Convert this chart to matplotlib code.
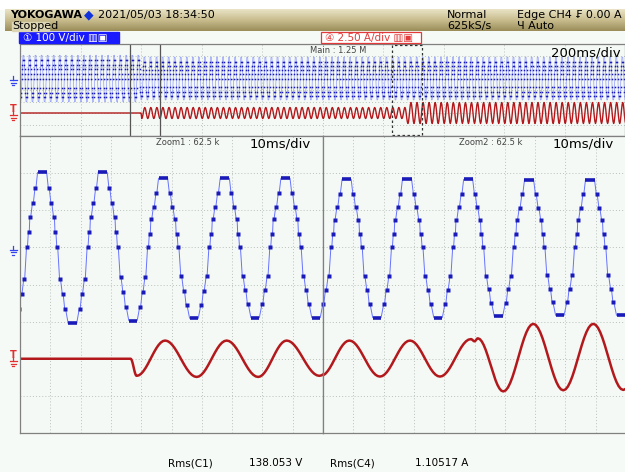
import matplotlib
matplotlib.use('Agg')
import matplotlib.pyplot as plt
import numpy as np
from matplotlib.lines import Line2D
from matplotlib.patches import Rectangle

W, H = 625, 472

# one falling half-cycle of the inverter voltage staircase:
# ms from peak centre, fraction of peak (positive) / trough (negative)
fall_t = [0.0, 1.5, 2.2, 3.05, 3.9, 4.4, 5.0, 5.9, 6.8, 7.6, 8.6, 10.0]
fall_v = [1.0, 1.0, 0.79, 0.59, 0.41, 0.2, 0.0, -0.41, -0.61, -0.81, -1.0, -1.0]

# zoom windows (ms into the 2 s record)
zoom_start = [364.0, 1230.0]
zoom_len = 100.0

# CH1 voltage extrema in each zoom window (ms from window start, div)
z1_v_t = [-2.7, 7.3, 17.3, 27.3, 37.3, 47.2, 57.4, 67.6, 77.6, 87.6, 97.7, 107.7]
z1_v = [-2.05, 2.02, -2.05, 2.02, -1.97, 1.86, -1.91, 1.86, -1.89, 1.86, -1.89, 1.86]
z2_v_t = [-2.3, 7.8, 17.8, 27.7, 38.0, 47.9, 57.9, 68.0, 78.2, 88.1, 98.3, 108.3]
z2_v = [-1.89, 1.83, -1.89, 1.83, -1.89, 1.83, -1.85, 1.81, -1.83, 1.81, -1.83, 1.81]

# CH4 current extrema in each zoom window (ms from window start, div)
z1_i_t = [-5.0, 36.5, 38.5, 47.9, 58.3, 68.2, 78.6, 88.0, 98.8, 108.6]
z1_i = [0.0, 0.0, -0.46, 0.49, -0.49, 0.49, -0.49, 0.49, -0.46, 0.49]
z2_i_t = [-0.7, 8.7, 18.8, 28.7, 38.6, 48.8, 50.0, 51.1, 59.5, 69.4, 79.3, 89.2, 99.1, 109.0]
z2_i = [-0.46, 0.49, -0.48, 0.49, -0.48, 0.53, 0.47, 0.55, -0.88, 0.94, -0.85, 0.94, -0.84, 0.94]

# main record (200 ms/div, 2 s)
main_period = 20.0
main_v_first_peak = 11.3
main_v_amp = [2.02, 1.86]
main_i_start = 400.0
main_i_first_trough = 402.5
main_i_step = 1279.0
main_i_amp = [0.48, 0.91]

# channel zero positions (div from screen centre)
v_zero = 1.0
i_zero = -2.0

C_BLUE_LINE = '#6672ff'
C_BLUE_DOT = '#1a1ab8'
C_RED = '#b3191c'
C_GRID = '#b9c2bb'
C_BG = '#f4f9f5'


def px(x, y):
    return x / W, 1 - y / H


def staircase(tx, vx):
    ts, vs, dt, dv, flats = [], [], [], [], []
    for k in range(len(tx) - 1):
        ta, tb, va, vb = tx[k], tx[k + 1], vx[k], vx[k + 1]
        sc = (tb - ta) / 10.0
        if va > 0:
            pts = [(ta + f * sc, v * va if v > 0 else v * -vb) for f, v in zip(fall_t, fall_v)]
        else:
            pts = [(tb - f * sc, v * vb if v > 0 else v * -va) for f, v in zip(fall_t, fall_v)][::-1]
        for j, (t, v) in enumerate(pts):
            if j in (0, 1, 10, 11):
                ts.append(t)
                vs.append(v)
            else:
                ts += [t - 0.15, t + 0.15]
                vs += [v, v]
                dt.append(t)
                dv.append(v)
        flats.append((pts[0][0], pts[1][0], pts[0][1]))
        flats.append((pts[10][0], pts[11][0], pts[10][1]))
    return np.array(ts), np.array(vs), np.array(dt), np.array(dv), flats


def smooth(tx, vx, n=14):
    ts, vs = [], []
    for k in range(len(tx) - 1):
        s = np.linspace(0, 1, n)
        ts.extend(tx[k] + (tx[k + 1] - tx[k]) * s)
        vs.extend(vx[k] + (vx[k + 1] - vx[k]) * (1 - np.cos(np.pi * s)) / 2)
    return np.array(ts), np.array(vs)


def setup(ax, xmax, nx):
    ax.set_facecolor(C_BG)
    ax.set_xlim(0, xmax)
    ax.set_ylim(-4, 4)
    ax.set_xticks(np.linspace(0, xmax, nx + 1))
    ax.set_yticks(np.arange(-4, 5, 1))
    ax.tick_params(length=0, labelbottom=False, labelleft=False)
    ax.grid(True, color=C_GRID, lw=0.7, ls=(0, (1, 2.2)))
    for s in ax.spines.values():
        s.set_color('#808080')
        s.set_linewidth(0.9)


fig = plt.figure(figsize=(W / 100, H / 100), dpi=100, facecolor='#f6faf6')

# header bar
hdr = fig.add_axes([5 / W, 1 - 31 / H, 620 / W, 22 / H])
grad = np.linspace(0, 1, 50).reshape(-1, 1)
hdr.imshow(grad, aspect='auto', cmap=matplotlib.colors.LinearSegmentedColormap.from_list(
    'hdr', ['#e9e3c6', '#c9bd8e', '#9a8d5a']), extent=[0, 1, 0, 1])
hdr.axis('off')
fig.add_artist(Rectangle(px(0, 9), 1, 9 / H, transform=fig.transFigure, color='white', zorder=0))
fig.add_artist(Rectangle(px(12, 31), 37 / W, 9 / H, transform=fig.transFigure,
                         color='#ddd6b4', zorder=3))

narrow = ['Liberation Sans Narrow', 'DejaVu Sans']
fig.text(*px(10, 15), 'YOKOGAWA', fontsize=8, fontweight='bold', family=narrow, va='center', zorder=5)
fig.text(*px(84, 15), '\u25c6', fontsize=9, color='#1133dd', va='center', zorder=5)
fig.text(*px(98, 15), '2021/05/03 18:34:50', fontsize=8, family=narrow, va='center', zorder=5)
fig.text(*px(12, 26), 'Stopped', fontsize=8, family=narrow, va='center', zorder=5)
fig.text(*px(447, 15), 'Normal', fontsize=8, family=narrow, va='center', zorder=5)
fig.text(*px(447, 26), '625kS/s', fontsize=8, family=narrow, va='center', zorder=5)
fig.text(*px(517, 15), 'Edge CH4 \u20a3 0.00 A', fontsize=8, family=narrow, va='center', zorder=5)
fig.text(*px(517, 26), '\u0427 Auto', fontsize=8, family=narrow, va='center', zorder=5)

# channel setting boxes
fig.add_artist(Rectangle(px(19, 43), 100 / W, 11 / H, transform=fig.transFigure,
                         facecolor='#1a1aff', edgecolor='#1a1aff'))
fig.text(*px(23, 37.5), '\u2460 100 V/div \u25a5\u25a3', fontsize=7.5, color='white',
         family=narrow, va='center')
fig.add_artist(Rectangle(px(321, 43), 100 / W, 11 / H, transform=fig.transFigure,
                         facecolor='white', edgecolor='#e23a3a', lw=0.9))
fig.text(*px(325, 37.5), '\u2463 2.50 A/div \u25a5\u25a3', fontsize=7.5, color='#e23a3a',
         family=narrow, va='center')

# main window
ax_m = fig.add_axes([20 / W, 1 - 136 / H, 605 / W, 92 / H])
setup(ax_m, 2000, 10)

pk = np.arange(main_v_first_peak - main_period, 2000 + main_period, main_period / 2)
vals = np.array([main_v_amp[0] if t < main_i_start else main_v_amp[1] for t in pk])
vals[1::2] *= -1
t, v, dt, dv, _ = staircase(list(pk), list(vals))
ax_m.plot(t, v + v_zero, color=C_BLUE_LINE, lw=0.45, alpha=0.75)
ax_m.plot(dt, dv + v_zero, 's', ms=1.1, color=C_BLUE_DOT, mec='none')

ext = np.arange(main_i_first_trough, 2000 + main_period, main_period / 2)
ivals = np.array([main_i_amp[0] if e < main_i_step else main_i_amp[1] for e in ext])
ivals[0::2] *= -1
t, v = smooth([0, main_i_start] + list(ext), [0, 0] + list(ivals), n=6)
ax_m.plot(t, v + i_zero, color=C_RED, lw=1.0)

# zoom window markers
ax_m.axvline(zoom_start[0], color='#555555', lw=0.9)
ax_m.axvline(zoom_start[0] + zoom_len, color='#555555', lw=0.9)
ax_m.add_patch(Rectangle((zoom_start[1], -3.95), zoom_len, 7.9, fill=False,
                         edgecolor='#333333', lw=0.9, ls=(0, (2, 2)), zorder=5))
ax_m.text(0.48, 0.93, 'Main : 1.25 M', transform=ax_m.transAxes, fontsize=6,
          color='#444444', family=narrow, va='center')
ax_m.text(0.993, 0.9, '200ms/div', transform=ax_m.transAxes, fontsize=9.5,
          family=narrow, ha='right', va='center')

# zoom windows
zooms = [(20, z1_v_t, z1_v, z1_i_t, z1_i, 'Zoom1 : 62.5 k'),
         (323, z2_v_t, z2_v, z2_i_t, z2_i, 'Zoom2 : 62.5 k')]
for x0, vt, vv, it, iv, label in zooms:
    ax = fig.add_axes([x0 / W, 1 - 433 / H, 303 / W, 297 / H])
    setup(ax, zoom_len, 10)
    t, v, dt, dv, flats = staircase(vt, vv)
    ax.plot(t, v + v_zero, color=C_BLUE_LINE, lw=0.7)
    ax.plot(dt, dv + v_zero, 's', ms=2.4, color=C_BLUE_DOT, mec='none')
    for a, b, lvl in flats:
        ax.plot([a, b], [lvl + v_zero] * 2, color=C_BLUE_DOT, lw=2.6, solid_capstyle='butt')
    t, v = smooth(it, iv)
    ax.plot(t, v + i_zero, color=C_RED, lw=1.8)
    ax.text(0.45, 0.977, label, transform=ax.transAxes, fontsize=6, color='#444444',
            family=narrow, va='center')
    ax.text(0.96, 0.972, '10ms/div', transform=ax.transAxes, fontsize=9.5,
            family=narrow, ha='right', va='center')


# ground / trigger markers at the left edge
def ground(y, color):
    segs = [((13, y - 4), (13, y)), ((9.5, y), (16.5, y)),
            ((10.5, y + 2.5), (15.5, y + 2.5)), ((11.5, y + 5), (14.5, y + 5))]
    for a, b in segs:
        fig.add_artist(Line2D([a[0] / W, b[0] / W], [1 - a[1] / H, 1 - b[1] / H],
                              color=color, lw=0.9, transform=fig.transFigure))


ground(80, '#3344ee')
ground(250, '#3344ee')
for y in (113, 359):
    fig.text(*px(13, y - 4), 'T', fontsize=7, color='#e03030', ha='center', va='center',
             fontweight='bold')
    ground(y + 2, '#e03030')

# measurement readout
for x, s in [(168, 'Rms(C1)'), (249, '138.053 V'), (330, 'Rms(C4)'), (415, '1.10517 A')]:
    fig.text(*px(x, 463), s, fontsize=7.5, family=narrow, va='center')

fig.savefig('out.png', dpi=100, facecolor=fig.get_facecolor())
